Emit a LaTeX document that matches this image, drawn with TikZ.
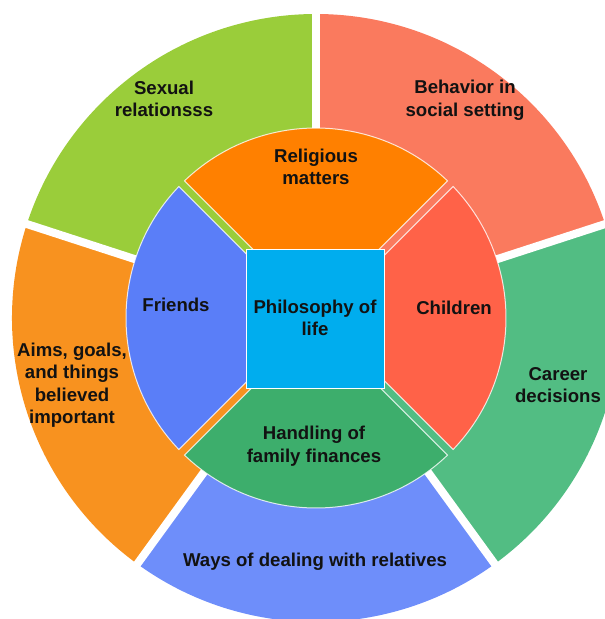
\documentclass[tikz,border=0pt]{standalone}
\usepackage{fontspec}
\setmainfont{Liberation Sans}
\definecolor{cSex}{HTML}{9ACD3A}
\definecolor{cBeh}{HTML}{FA7A5E}
\definecolor{cCar}{HTML}{52BD83}
\definecolor{cWay}{HTML}{6E8EFA}
\definecolor{cAim}{HTML}{F8921F}
\definecolor{cRel}{HTML}{FF8000}
\definecolor{cChi}{HTML}{FF6248}
\definecolor{cHan}{HTML}{3DAE6C}
\definecolor{cFri}{HTML}{5A7EF8}
\definecolor{cPhi}{HTML}{00ADEE}
\definecolor{txt}{HTML}{121212}
\begin{document}
\begin{tikzpicture}[x=1pt,y=1pt,
  lbl/.style={font=\bfseries\fontsize{18.6}{22.5}\selectfont, text=txt, align=center, inner sep=0pt},
  innerpiece/.style={draw=white, draw opacity=0.8, line width=1},
  gapline/.style={white, line width=8}]
\useasboundingbox (-316,-301) rectangle (289,318);
\clip (-316,-301) rectangle (289,318);
% outer sectors
\fill[cBeh] (0,0) -- (18:304) arc[start angle=18, end angle=90, radius=304] -- cycle;
\fill[cSex] (0,0) -- (90:304) arc[start angle=90, end angle=162, radius=304] -- cycle;
\fill[cAim] (0,0) -- (162:304) arc[start angle=162, end angle=234, radius=304] -- cycle;
\fill[cWay] (0,0) -- (234:304) arc[start angle=234, end angle=306, radius=304] -- cycle;
\fill[cCar] (0,0) -- (306:304) arc[start angle=306, end angle=378, radius=304] -- cycle;
\foreach \a in {18,90,162,234,306} \draw[gapline] (0,0) -- (\a:330);
% inner pieces
\filldraw[cRel, innerpiece] (90:5.66) -- (133.8:190) arc[start angle=133.8, end angle=46.2, radius=190] -- cycle;
\filldraw[cChi, innerpiece] (0:5.66) -- (43.8:190) arc[start angle=43.8, end angle=-43.8, radius=190] -- cycle;
\filldraw[cHan, innerpiece] (270:5.66) -- (313.8:190) arc[start angle=313.8, end angle=226.2, radius=190] -- cycle;
\filldraw[cFri, innerpiece] (180:5.66) -- (223.8:190) arc[start angle=223.8, end angle=136.2, radius=190] -- cycle;
% center
\filldraw[fill=cPhi, draw=white, line width=1] (-69,-70) rectangle (69,69);
% labels
\node[lbl] (sex) at (-152,219) {Sexual\\relationsss};
\node[lbl] (beh) at (149,218) {Behavior in\\social setting};
\node[lbl] (rel) at (0,151) {Religious\\matters};
\node[lbl] (fri) at (-140,13) {Friends};
\node[lbl] (phi) at (-1,0) {Philosophy of\\life};
\node[lbl] (chi) at (138,10) {Children};
\node[lbl] (aim) at (-244,-67) {Aims, goals,\\and things\\believed\\important};
\node[lbl] (car) at (242,-67) {Career\\decisions};
\node[lbl] (han) at (-2,-128) {Handling of\\family finances};
\node[lbl] (way) at (-1,-244) {Ways of dealing with relatives};
\end{tikzpicture}
\end{document}
